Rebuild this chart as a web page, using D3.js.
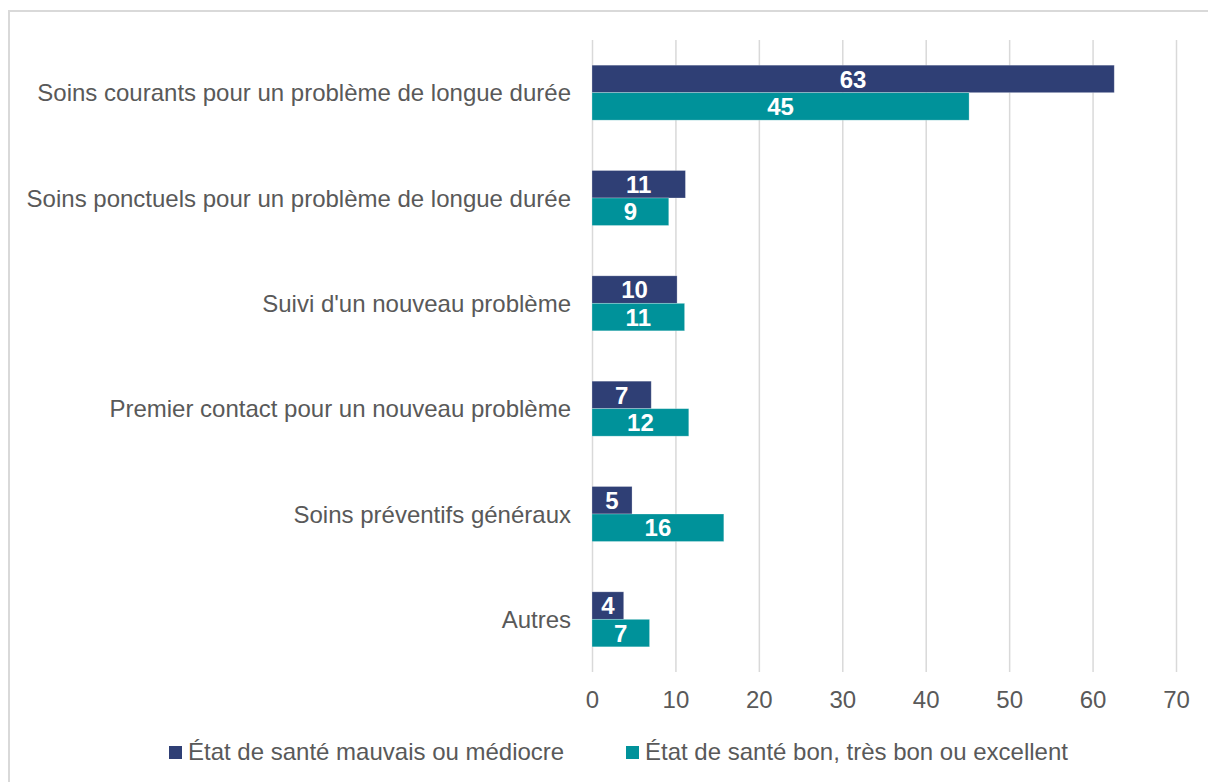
<!DOCTYPE html>
<html>
<head>
<meta charset="utf-8">
<script src="https://cdn.jsdelivr.net/npm/d3@7"></script>
<style>
  body { margin: 0; background: #fff; }
  svg { display: block; font-family: "Liberation Sans", Arial, sans-serif; }
  .grid line { stroke: #d9d9d9; stroke-width: 1.5; }
  .grid path { display: none; }
  .tick text { fill: #595959; font-size: 24px; }
</style>
</head>
<body>
<svg id="chart" width="1208" height="782"></svg>
<script>
// categories, top to bottom
const categories = [
  "Soins courants pour un problème de longue durée",
  "Soins ponctuels pour un problème de longue durée",
  "Suivi d'un nouveau problème",
  "Premier contact pour un nouveau problème",
  "Soins préventifs généraux",
  "Autres"
];
const seriesNames = [
  "État de santé mauvais ou médiocre",
  "État de santé bon, très bon ou excellent"
];
const poorHealth = [62.6, 11.2, 10.2, 7.1, 4.8, 3.8];
const goodHealth = [45.2, 9.2, 11.1, 11.6, 15.8, 6.9];
const xTicks = [0, 10, 20, 30, 40, 50, 60, 70];

const colors = ["#2f3f75", "#00929a"];

const svg = d3.select("#chart");

/* outer frame */
svg.append("rect")
  .attr("x", 9).attr("y", 11)
  .attr("width", 1210).attr("height", 800)
  .attr("fill", "none")
  .attr("stroke", "#d9d9d9")
  .attr("stroke-width", 2);

const plotLeft = 592, plotRight = 1176, plotTop = 40, plotBottom = 672;

const x = d3.scaleLinear().domain([0, 70]).range([plotLeft, plotRight]);
const y = d3.scaleBand().domain(categories).range([plotTop, plotBottom]).padding(0);
const barH = 27.5;

/* gridlines */
svg.append("g")
  .attr("class", "grid")
  .attr("transform", `translate(0,${plotBottom})`)
  .call(d3.axisBottom(x).tickValues(xTicks).tickSize(-(plotBottom - plotTop)).tickFormat(""));

/* x tick labels */
svg.append("g")
  .attr("transform", `translate(0,${plotBottom})`)
  .call(d3.axisBottom(x).tickValues(xTicks).tickSize(0).tickPadding(19))
  .call(g => g.select(".domain").remove())
  .selectAll("text").attr("dy", "0.71em");

/* category labels */
svg.append("g")
  .selectAll("text")
  .data(categories)
  .join("text")
  .attr("x", 571)
  .attr("y", d => y(d) + y.bandwidth() / 2)
  .attr("dy", "0.36em")
  .attr("text-anchor", "end")
  .attr("fill", "#595959")
  .attr("font-size", 24)
  .text(d => d);

const series = [poorHealth, goodHealth];
const fmt = d3.format(".0f");

series.forEach((vals, s) => {
  const rows = categories.map((c, i) => ({c, v: vals[i]}));
  const yPos = d => y(d.c) + y.bandwidth() / 2 - barH + s * barH;
  const g = svg.append("g");
  g.selectAll("rect")
    .data(rows)
    .join("rect")
    .attr("x", x(0))
    .attr("y", yPos)
    .attr("width", d => x(d.v) - x(0))
    .attr("height", barH)
    .attr("fill", colors[s])
    .attr("stroke", "#ffffff")
    .attr("stroke-opacity", 0.35)
    .attr("stroke-width", 0.75);
  g.selectAll("text")
    .data(rows)
    .join("text")
    .attr("x", d => (x(0) + x(d.v)) / 2)
    .attr("y", d => yPos(d) + barH / 2)
    .attr("dy", "0.36em")
    .attr("text-anchor", "middle")
    .attr("fill", "#ffffff")
    .attr("font-size", 24)
    .attr("font-weight", "bold")
    .text(d => fmt(d.v));
});

/* legend */
const legendX = [169, 626];
const legend = svg.append("g");
seriesNames.forEach((name, i) => {
  legend.append("rect")
    .attr("x", legendX[i]).attr("y", 746)
    .attr("width", 13).attr("height", 13)
    .attr("fill", colors[i]);
  legend.append("text")
    .attr("x", legendX[i] + 19)
    .attr("y", 760)
    .attr("fill", "#595959")
    .attr("font-size", 24)
    .text(name);
});
</script>
</body>
</html>
